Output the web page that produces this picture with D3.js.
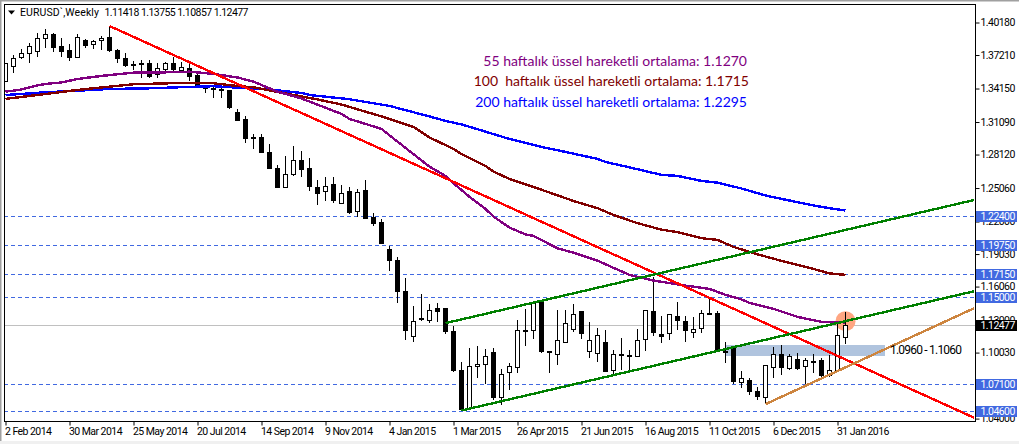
<!DOCTYPE html>
<html>
<head>
<meta charset="utf-8">
<script src="https://cdn.jsdelivr.net/npm/d3@7"></script>
<style>
html, body { margin: 0; padding: 0; background: #fff; overflow: hidden; }
svg { display: block; }
text { font-family: Roboto, sans-serif; }
</style>
</head>
<body>
<div id="chart"></div>
<script>
// weekly candles, one entry per week starting 2 Feb 2014
const open = [1.3479,1.3616,1.3698,1.3735,1.3753,1.3872,1.3908,1.3803,1.3758,1.3698,1.3852,1.3817,1.3852,1.3881,1.3758,1.3691,1.3636,1.3645,1.3645,1.3548,1.3591,1.3648,1.3584,1.3600,1.3530,1.3420,1.3417,1.3406,1.3393,1.3198,1.3128,1.2968,1.2970,1.2833,1.2680,1.2513,1.2628,1.2753,1.2680,1.2513,1.2473,1.2534,1.2364,1.2470,1.2291,1.2480,1.2233,1.2187,1.1947,1.1847,1.1564,1.1149,1.1317,1.1295,1.1402,1.1402,1.1192,1.0843,1.0496,1.0875,1.0893,1.1007,1.0592,1.0821,1.0866,1.1208,1.1204,1.1460,1.1010,1.0985,1.1095,1.1213,1.1381,1.1016,1.0998,1.1098,1.0839,1.0989,1.0980,1.0970,1.1126,1.1381,1.1171,1.1171,1.1336,1.1290,1.1190,1.1222,1.1363,1.1363,1.1013,1.1053,1.0733,1.0745,1.0644,1.0596,1.0866,1.0989,1.0857,1.0943,1.0879,1.0925,1.0934,1.0800,1.0843,1.11418];
const high = [1.3639,1.3721,1.3776,1.3834,1.3925,1.3963,1.3925,1.3879,1.3822,1.3910,1.3865,1.3858,1.3895,1.3986,1.3776,1.3737,1.3669,1.3676,1.3676,1.3645,1.3660,1.3706,1.3660,1.3645,1.3548,1.3447,1.3447,1.3420,1.3393,1.3226,1.3164,1.2997,1.2997,1.2909,1.2717,1.2799,1.2890,1.2845,1.2778,1.2580,1.2605,1.2605,1.2534,1.2513,1.2495,1.2580,1.2276,1.2221,1.1980,1.1874,1.1683,1.1430,1.1539,1.1448,1.1460,1.1402,1.1247,1.0916,1.1043,1.1064,1.1037,1.1043,1.0852,1.0907,1.1302,1.1402,1.1475,1.1460,1.1019,1.1393,1.1393,1.1448,1.1381,1.1286,1.1226,1.1211,1.1028,1.1135,1.1028,1.1217,1.1390,1.1694,1.1338,1.1357,1.1463,1.1338,1.1326,1.1393,1.1500,1.1387,1.1104,1.1064,1.0836,1.0770,1.0693,1.0888,1.1058,1.1074,1.0989,1.0998,1.0952,1.0991,1.0952,1.0982,1.1272,1.13755];
const low = [1.3475,1.3560,1.3685,1.3648,1.3706,1.3785,1.3749,1.3706,1.3667,1.3698,1.3788,1.3776,1.3767,1.3749,1.3648,1.3614,1.3584,1.3511,1.3514,1.3514,1.3578,1.3569,1.3569,1.3484,1.3438,1.3374,1.3331,1.3331,1.3226,1.3128,1.2921,1.2860,1.2829,1.2678,1.2504,1.2513,1.2619,1.2610,1.2482,1.2352,1.2388,1.2373,1.2364,1.2272,1.2245,1.2221,1.2160,1.1998,1.1749,1.1460,1.1119,1.1104,1.1295,1.1277,1.1286,1.1174,1.0830,1.0474,1.0496,1.0770,1.0715,1.0571,1.0526,1.0663,1.0815,1.1064,1.1128,1.1003,1.0821,1.0891,1.1089,1.1195,1.1128,1.0958,1.0921,1.0830,1.0809,1.0845,1.0845,1.0961,1.1022,1.1158,1.1095,1.1119,1.1211,1.1104,1.1140,1.1180,1.1345,1.1019,1.0907,1.0718,1.0678,1.0617,1.0571,1.0535,1.0770,1.0800,1.0845,1.0845,1.0708,1.0815,1.0784,1.0779,1.0843,1.10857];
const close = [1.3639,1.3689,1.3735,1.3799,1.3872,1.3908,1.3790,1.3753,1.3694,1.3881,1.3806,1.3840,1.3872,1.3761,1.3685,1.3624,1.3624,1.3636,1.3530,1.3600,1.3648,1.3593,1.3609,1.3523,1.3438,1.3414,1.3412,1.3393,1.3240,1.3128,1.2952,1.2964,1.2829,1.2683,1.2510,1.2632,1.2760,1.2674,1.2519,1.2455,1.2523,1.2391,1.2459,1.2279,1.2468,1.2227,1.2178,1.1998,1.1843,1.1560,1.1204,1.1290,1.1311,1.1387,1.1378,1.1195,1.0836,1.0489,1.0879,1.0897,1.0970,1.0599,1.0806,1.0879,1.1208,1.1195,1.1454,1.1010,1.0998,1.1116,1.1272,1.1354,1.1177,1.1116,1.1162,1.0830,1.0989,1.0985,1.0967,1.1116,1.1390,1.1186,1.1149,1.1347,1.1295,1.1204,1.1217,1.1363,1.1350,1.1019,1.1007,1.0739,1.0770,1.0647,1.0602,1.0888,1.0989,1.0866,1.0970,1.0857,1.0934,1.0921,1.0800,1.0843,1.1162,1.12477];

// exponential moving averages: week number, price
const ema55Week = [0,2,4,5,7,9,12,16,20,23,26,29,31,34,37,42,43,47,49,53,55,56,58,60,61,63,65,66,69,71,74,76,78,81,85,88,90,92,93,96,99,102,105];
const ema55 = [1.3386,1.3406,1.3443,1.3457,1.3470,1.3502,1.3530,1.3560,1.3563,1.3569,1.3548,1.3516,1.3478,1.3386,1.3324,1.3183,1.3137,1.3046,1.2930,1.2701,1.2617,1.2550,1.2425,1.2315,1.2245,1.2145,1.2082,1.2069,1.1955,1.1916,1.1843,1.1777,1.1713,1.1661,1.1615,1.1585,1.1530,1.1489,1.1457,1.1402,1.1329,1.1284,1.1279];
const ema100Week = [0,2,5,9,13,16,22,26,29,31,35,39,42,47,51,53,56,57,60,61,63,66,71,74,76,79,82,84,87,89,91,94,97,101,103,105];
const ema100 = [1.3320,1.3338,1.3365,1.3402,1.3432,1.3454,1.3466,1.3463,1.3438,1.3426,1.3370,1.3315,1.3269,1.3160,1.3064,1.2968,1.2863,1.2817,1.2708,1.2656,1.2589,1.2516,1.2388,1.2322,1.2260,1.2185,1.2126,1.2103,1.2048,1.2032,1.1968,1.1900,1.1841,1.1767,1.1726,1.1713];
const ema200Week = [0,2,5,9,13,18,24,26,29,33,37,38,43,48,53,55,57,60,63,67,70,74,75,79,82,84,87,89,92,95,97,101,103,105];
const ema200 = [1.3356,1.3365,1.3381,1.3395,1.3411,1.3417,1.3432,1.3436,1.3423,1.3406,1.3374,1.3356,1.3317,1.3256,1.3160,1.3119,1.3087,1.3021,1.2954,1.2881,1.2836,1.2772,1.2744,1.2678,1.2626,1.2617,1.2571,1.2555,1.2502,1.2438,1.2407,1.2347,1.2322,1.2300];

// hand drawn trend lines: [week, price] at both ends
const redLine = [[13, 1.3986], [121.1, 1.0407]];
const greenUpper = [[55, 1.1272], [121.1, 1.2397]];
const greenLower = [[57, 1.0474], [121.1, 1.1564]];
const orangeLine = [[95, 1.0532], [121.1, 1.1409]];

const levels = [1.224, 1.1975, 1.1715, 1.15, 1.071, 1.046];
const lastPrice = 1.12477;
const priceTicks = [1.4018, 1.3721, 1.3415, 1.3109, 1.2812, 1.2506, 1.22, 1.1903, 1.1606, 1.13, 1.1003, 1.07, 1.04];
const timeLabels = ["2 Feb 2014", "30 Mar 2014", "25 May 2014", "20 Jul 2014", "14 Sep 2014", "9 Nov 2014", "4 Jan 2015", "1 Mar 2015", "26 Apr 2015", "21 Jun 2015", "16 Aug 2015", "11 Oct 2015", "6 Dec 2015", "31 Jan 2016"];
const emaNotes = ["55 haftalık üssel hareketli ortalama: 1.1270", "100  haftalık üssel hareketli ortalama: 1.1715", "200 haftalık üssel hareketli ortalama: 1.2295"];

const width = 1019;
const height = 444;
const plot = { left: 4, right: 975, top: 4, bottom: 421 };

const x = d3.scaleLinear().domain([0, 105]).range([5.5, 845.5]);
const y = d3.scaleLinear().domain([1.4018, 1.04]).range([22.5, 418.6]);
const snap = v => Math.round(v - 0.5) + 0.5;

const svg = d3.select("#chart").append("svg")
    .attr("width", width)
    .attr("height", height)
    .attr("viewBox", [0, 0, width, height]);

// window edges
svg.append("rect").attr("width", width).attr("height", 1.5).attr("fill", "#a0a0a0");
svg.append("rect").attr("width", 1.5).attr("height", height).attr("fill", "#a0a0a0");
svg.append("rect").attr("y", 441).attr("width", width).attr("height", 3).attr("fill", "#f0f0f0");

svg.append("defs").append("clipPath").attr("id", "plot").append("rect")
    .attr("x", plot.left).attr("y", plot.top)
    .attr("width", plot.right - plot.left).attr("height", plot.bottom - plot.top);

const g = svg.append("g").attr("clip-path", "url(#plot)").attr("shape-rendering", "crispEdges");

// support and resistance levels
g.selectAll(".level").data(levels).join("line")
    .attr("x1", plot.left).attr("x2", plot.right)
    .attr("y1", d => snap(y(d) - 0.6)).attr("y2", d => snap(y(d) - 0.6))
    .attr("stroke", "#4169e1")
    .attr("stroke-dasharray", "4,3");

g.append("line")
    .attr("x1", plot.left).attr("x2", plot.right)
    .attr("y1", snap(y(lastPrice))).attr("y2", snap(y(lastPrice)))
    .attr("stroke", "#c0c0c0");

// 1.0960 - 1.1060 zone
g.append("rect")
    .attr("x", x(90) - 0.5).attr("width", x(110) - x(90))
    .attr("y", y(1.1074)).attr("height", y(1.0976) - y(1.1074))
    .attr("fill", "#b0c4de");

g.append("circle")
    .attr("cx", x(105)).attr("cy", y(1.129))
    .attr("r", 10)
    .attr("fill", "#ffa682")
    .attr("shape-rendering", "auto");

// candles
const candles = g.append("g").selectAll("g").data(d3.range(open.length)).join("g");
candles.append("line")
    .attr("x1", i => x(i)).attr("x2", i => x(i))
    .attr("y1", i => y(high[i])).attr("y2", i => y(low[i]))
    .attr("stroke", "#000");
candles.append("rect")
    .attr("x", i => x(i) - 2)
    .attr("width", 4)
    .attr("y", i => snap(y(Math.max(open[i], close[i]))))
    .attr("height", i => Math.max(1, Math.round(Math.abs(y(open[i]) - y(close[i])))))
    .attr("fill", i => close[i] >= open[i] ? "#fff" : "#000")
    .attr("stroke", "#000");

// moving averages
const emaLine = d3.line().x(d => x(d[0])).y(d => y(d[1]));
[[ema200Week, ema200, "#0000ff"], [ema100Week, ema100, "#800000"], [ema55Week, ema55, "#800080"]].forEach(([weeks, values, colour]) => {
    g.append("path")
        .attr("d", emaLine(weeks.map((w, k) => [w, values[k]])))
        .attr("fill", "none")
        .attr("stroke", colour)
        .attr("stroke-width", 2.4);
});

// trend lines
[[redLine, "#ff0000"], [greenUpper, "#008000"], [greenLower, "#008000"], [orangeLine, "#cd853f"]].forEach(([pts, colour]) => {
    g.append("path")
        .attr("d", emaLine(pts))
        .attr("fill", "none")
        .attr("stroke", colour)
        .attr("stroke-width", 2.4);
});

// chart frame
svg.append("rect")
    .attr("x", plot.left + 0.5).attr("y", plot.top + 0.5)
    .attr("width", plot.right - plot.left).attr("height", plot.bottom - plot.top)
    .attr("fill", "none").attr("stroke", "#000")
    .attr("shape-rendering", "crispEdges");

const smallText = sel => sel
    .attr("font-size", 10.5)
    .attr("fill", "#000")
    .style("font-family", "Roboto, sans-serif")
    .style("letter-spacing", "-0.55px");

// price axis
const priceAxis = d3.axisRight(y).tickValues(priceTicks).tickFormat(d3.format(".5f")).tickSize(4).tickPadding(1);
const priceG = svg.append("g").attr("transform", `translate(${plot.right + 0.5},0)`).call(priceAxis);
priceG.select(".domain").remove();
priceG.selectAll("text").call(smallText);

// time axis
const timeAxis = d3.axisBottom(x).tickValues(timeLabels.map((d, k) => k * 8)).tickFormat((d, k) => timeLabels[k]).tickSize(4).tickPadding(2);
const timeG = svg.append("g").attr("transform", `translate(0,${plot.bottom + 0.5})`).call(timeAxis);
timeG.select(".domain").remove();
timeG.selectAll("text").call(smallText).attr("text-anchor", "start").attr("dx", -1);

// level tags over the axis
const tags = svg.append("g").selectAll("g").data(levels.concat(lastPrice)).join("g")
    .attr("transform", d => `translate(976,${Math.round(y(d))})`);
tags.append("rect")
    .attr("y", -6).attr("width", 41).attr("height", 11)
    .attr("fill", d => d === lastPrice ? "#000" : "#4169e1");
tags.append("text")
    .attr("x", 4.5).attr("y", -0.5).attr("dy", "0.36em")
    .call(smallText)
    .attr("fill", "#fff")
    .text(d => d3.format(".5f")(d));

// title row
svg.append("path").attr("d", "M8,10.5h7l-3.5,4z").attr("fill", "#000");
svg.append("text").attr("x", 20).attr("y", 16).call(smallText).style("letter-spacing", "0.1px").text("EURUSD`,Weekly");
svg.append("text").attr("x", 104.5).attr("y", 16).call(smallText).text("1.11418 1.13755 1.10857 1.12477");

svg.append("text").attr("x", 890).attr("y", 354).attr("font-size", 12).attr("fill", "#000")
    .attr("textLength", 72).text("1.0960 - 1.1060");

// notes
svg.append("g").selectAll("text").data(emaNotes).join("text")
    .attr("x", (d, k) => [747, 749, 747][k])
    .attr("y", (d, k) => [66, 86, 107][k])
    .attr("text-anchor", "end")
    .attr("font-size", 14)
    .attr("fill", (d, k) => ["#800080", "#800000", "#0000ff"][k])
    .style("font-family", "Lato, sans-serif")
    .style("white-space", "pre")
    .text(d => d);
</script>
</body>
</html>
